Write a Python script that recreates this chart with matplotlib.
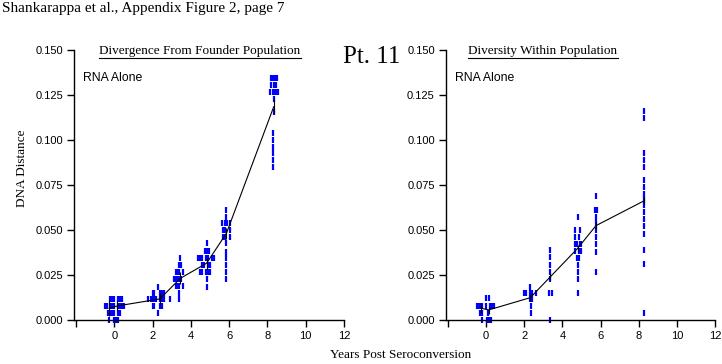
import numpy as np
import matplotlib.pyplot as plt
from matplotlib.lines import Line2D

plt.rcParams['font.family'] = 'Liberation Sans'

# divergence from founder population: (distance, [years of each sequence])
div_rows = [
    (0.0117, [-0.2, -0.1, 0.0, 0.2, 0.3, 0.4]),
    (0.0078, [-0.5, -0.4, -0.2, -0.1, 0.0, 0.2, 0.3, 0.4, 0.5]),
    (0.0039, [-0.3, -0.2, -0.1, 0.0, 0.2, 0.3]),
    (0.0, [-0.26, 0.0, 0.1, 0.2]),
    (0.0185, [2.3]),
    (0.0152, [2.0, 2.1, 2.4, 2.5, 2.6]),
    (0.0115, [1.75, 1.9, 2.0, 2.1, 2.2, 2.4, 2.5, 2.6, 2.9]),
    (0.0078, [2.0, 2.1, 2.4, 2.5]),
    (0.0039, [2.3]),
    (0.0343, [3.45]),
    (0.0306, [3.4, 3.5]),
    (0.0265, [3.2, 3.3, 3.4, 3.6]),
    (0.0226, [3.1, 3.2, 3.3, 3.4, 3.5]),
    (0.0189, [3.2, 3.3, 3.4, 3.6]),
    (0.0152, [3.4]),
    (0.0115, [3.4]),
    (0.0426, [4.85]),
    (0.0383, [4.75, 4.85, 4.95]),
    (0.0343, [4.4, 4.5, 4.6, 4.8, 4.9, 5.1, 5.2]),
    (0.0306, [4.6, 4.7, 4.9, 5.0]),
    (0.0268, [4.5, 4.6, 4.8, 4.9, 5.0]),
    (0.0226, [4.85]),
    (0.0185, [4.85]),
    (0.061, [5.85]),
    (0.0574, [5.85]),
    (0.0537, [5.65, 5.8, 5.9, 6.05]),
    (0.05, [5.7, 5.8, 6.05]),
    (0.0463, [5.7, 5.8, 6.05]),
    (0.0426, [5.85]),
    (0.038, [5.85]),
    (0.0343, [5.85]),
    (0.0306, [5.85]),
    (0.0268, [5.85]),
    (0.0226, [5.85]),
    (0.1343, [8.2, 8.3, 8.4, 8.5]),
    (0.1306, [8.2, 8.35, 8.45]),
    (0.1268, [8.15, 8.3, 8.4, 8.5, 8.55]),
    (0.123, [8.35]),
    (0.1157, [8.35]),
    (0.104, [8.3]),
    (0.1, [8.3]),
    (0.0963, [8.3]),
    (0.0926, [8.3]),
    (0.089, [8.3]),
    (0.0852, [8.3]),
]
div_mean_x = [-0.26, 0.16, 2.38, 3.46, 4.82, 5.86, 8.33]
div_mean_y = [0.0065, 0.0078, 0.0117, 0.0232, 0.0315, 0.0482, 0.1185]
div_err = [0.0045, 0.003, 0.0033, 0.0032, 0.003, 0.003, 0.004]

# diversity within population
dvs_rows = [
    (0.012, [0.02, 0.14]),
    (0.0078, [-0.5, -0.4, -0.3, -0.2, 0.0, 0.2, 0.3, 0.4]),
    (0.0039, [-0.33, -0.21, 0.1]),
    (0.0, [-0.2, 0.05, 0.15, 0.25]),
    (0.0185, [2.32]),
    (0.0152, [2.0, 2.1, 2.3, 2.4, 2.6]),
    (0.0115, [2.3, 2.4]),
    (0.0078, [2.35]),
    (0.0039, [2.35]),
    (0.039, [3.37]),
    (0.035, [3.37]),
    (0.0306, [3.37]),
    (0.0268, [3.37]),
    (0.0226, [3.37]),
    (0.0152, [3.3, 3.45]),
    (0.0, [3.37]),
    (0.057, [4.8]),
    (0.05, [4.65, 4.9]),
    (0.0463, [4.65, 4.85]),
    (0.0422, [4.65, 4.75, 4.9, 5.0]),
    (0.0383, [4.65, 4.85, 5.0]),
    (0.0343, [4.75, 4.85]),
    (0.0306, [4.8]),
    (0.0268, [4.8]),
    (0.0226, [4.8]),
    (0.0152, [4.8]),
    (0.069, [5.78]),
    (0.061, [5.7, 5.8]),
    (0.0574, [5.75]),
    (0.0537, [5.78]),
    (0.05, [5.78]),
    (0.0463, [5.78]),
    (0.0422, [5.78]),
    (0.038, [5.78]),
    (0.0268, [5.78]),
    (0.116, [8.3]), (0.112, [8.3]), (0.093, [8.3]), (0.089, [8.3]),
    (0.085, [8.3]), (0.078, [8.3]), (0.074, [8.3]), (0.070, [8.3]),
    (0.067, [8.3]), (0.064, [8.3]), (0.060, [8.3]), (0.056, [8.3]),
    (0.052, [8.3]), (0.048, [8.3]), (0.039, [8.3]), (0.031, [8.3]),
    (0.004, [8.3]),
]
dvs_mean_x = [-0.25, 0.14, 2.32, 3.37, 4.8, 5.76, 8.3]
dvs_mean_y = [0.0065, 0.0056, 0.0124, 0.024, 0.0398, 0.0524, 0.0663]
dvs_err = [0.0025, 0.002, 0.002, 0.002, 0.002, 0.002, 0.002]

xticks = [-2, 0, 2, 4, 6, 8, 10, 12]
xticklabels = ['', '0', '2', '4', '6', '8', '10', '12']
yticks = [0, 0.025, 0.05, 0.075, 0.1, 0.125, 0.15]
yticklabels = ['0.000', '0.025', '0.050', '0.075', '0.100', '0.125', '0.150']

fig = plt.figure(figsize=(7.22, 3.64), dpi=100)


def panel(rect, rows, mx, my, merr):
    ax = fig.add_axes(rect)
    xs = [x for y, xx in rows for x in xx]
    ys = [y for y, xx in rows for x in xx]
    ax.plot(xs, ys, ls='none', marker='|', ms=5, mew=1.6, color='#0000ff', clip_on=False)
    ax.errorbar(mx, my, yerr=merr, color='black', lw=0.8, elinewidth=0.8, capsize=0)
    ax.set_xlim(-2.1, 12)
    ax.set_ylim(0, 0.15)
    ax.set_xticks(xticks)
    ax.set_xticklabels(xticklabels)
    ax.set_yticks(yticks)
    ax.set_yticklabels(yticklabels)
    ax.spines['top'].set_visible(False)
    ax.spines['right'].set_visible(False)
    for s in ['left', 'bottom']:
        ax.spines[s].set_linewidth(1)
    ax.tick_params(direction='out', length=5, width=1, labelsize=8, pad=3)
    ax.text(0.035, 0.885, 'RNA Alone', transform=ax.transAxes, fontsize=8.8)
    return ax


ax1 = panel([0.1025, 0.1209, 0.374, 0.7418], div_rows, div_mean_x, div_mean_y, div_err)
ax2 = panel([0.6177, 0.1209, 0.3726, 0.7418], dvs_rows, dvs_mean_x, dvs_mean_y, dvs_err)

serif = 'Liberation Serif'
t1 = fig.text(0.277, 0.851, 'Divergence From Founder Population', family=serif,
              fontsize=9.5, ha='center', va='baseline')
t2 = fig.text(0.752, 0.851, 'Diversity Within Population', family=serif,
              fontsize=9.5, ha='center', va='baseline')
fig.text(0.515, 0.843, 'Pt. 11', family=serif, fontsize=18, ha='center', va='center')
fig.text(0.003, 0.978, 'Shankarappa et al., Appendix Figure 2, page 7', family=serif,
         fontsize=11, ha='left', va='center')
fig.text(0.031, 0.538, 'DNA Distance', family=serif, fontsize=9.5, rotation=90,
         ha='center', va='center')
fig.text(0.555, 0.025, 'Years Post Seroconversion', family=serif, fontsize=9.5,
         ha='center', va='center')

# underline the panel titles
fig.canvas.draw()
inv = fig.transFigure.inverted()
for t in [t1, t2]:
    bb = t.get_window_extent()
    (x0, y0), (x1, _) = inv.transform([[bb.x0, bb.y0 - 0.5], [bb.x1, bb.y0]])
    fig.add_artist(Line2D([x0, x1], [y0, y0], transform=fig.transFigure,
                          color='black', lw=0.8))

fig.savefig('out.png', dpi=100)
